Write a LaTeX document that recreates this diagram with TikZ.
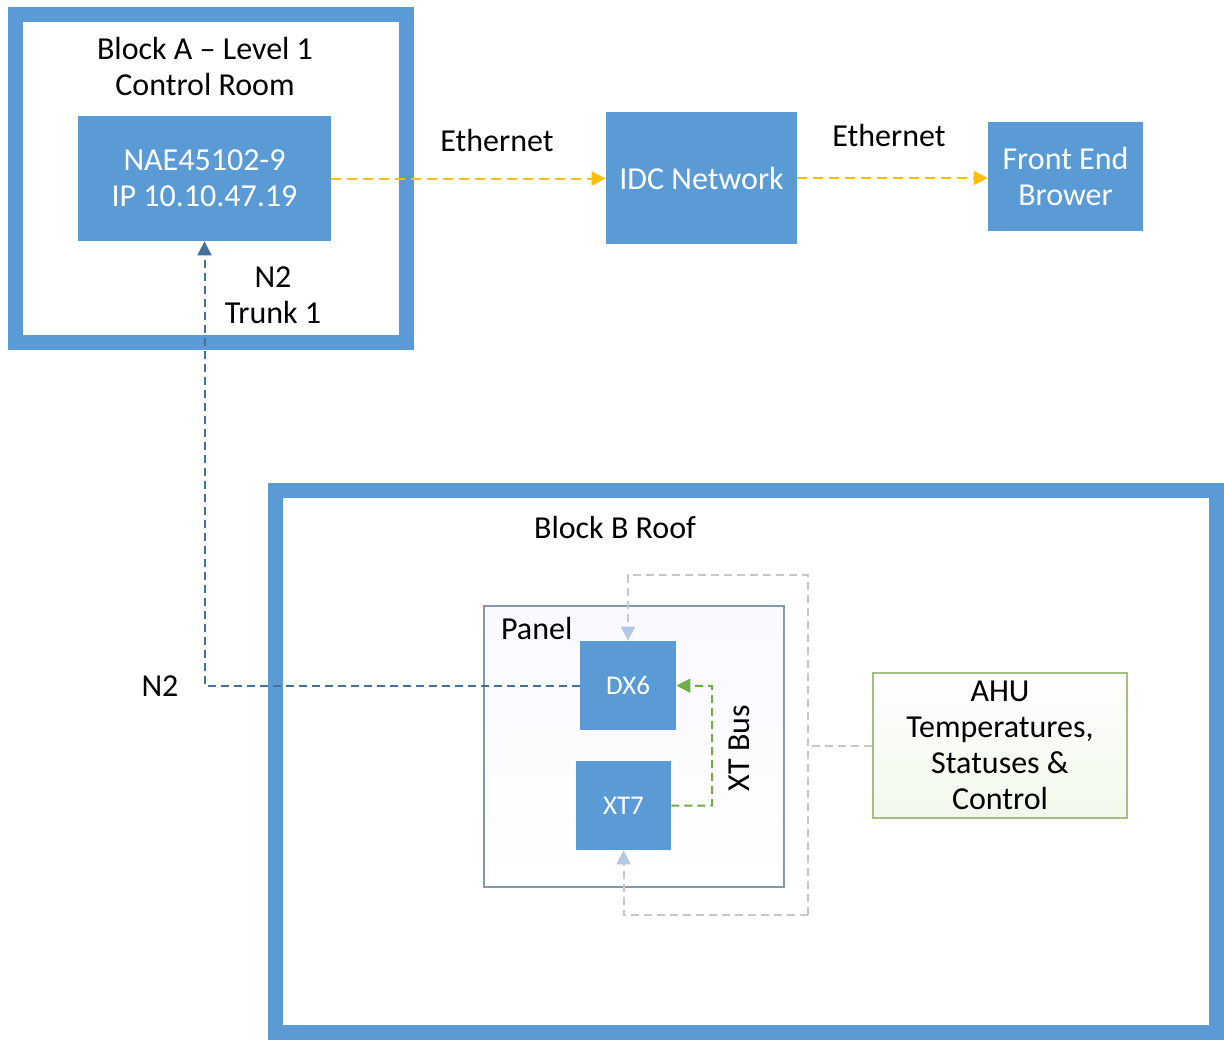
\documentclass[tikz,border=0pt]{standalone}
\usepackage{fontspec}
\setmainfont{Carlito}
\usetikzlibrary{arrows.meta,calc}
\definecolor{boxblue}{HTML}{5B9BD5}
\definecolor{ethc}{HTML}{FFC000}
\definecolor{ntwo}{HTML}{41719C}
\definecolor{greyl}{HTML}{C8C8C8}
\definecolor{lightarr}{HTML}{B4C7E7}
\definecolor{xtgreen}{HTML}{70AD47}
\definecolor{panelc}{HTML}{8497B0}
\definecolor{ahuc}{HTML}{A4BD84}
\tikzset{
  frame/.style={draw=boxblue, line width=7.5pt, fill=none},
  bluebox/.style={fill=boxblue, draw=none, text=white, align=center, font=\fontsize{16}{18}\selectfont},
  smallbox/.style={bluebox, font=\fontsize{13.5}{15}\selectfont},
  lbl/.style={align=center, font=\fontsize{16}{18}\selectfont, text=black},
  eth/.style={draw=ethc, line width=1pt, dash pattern=on 5pt off 3pt, -{Triangle[length=7pt,width=7pt,color=ethc]}},
  ntwoline/.style={draw=ntwo, line width=1pt, dash pattern=on 4pt off 2.5pt, -{Triangle[length=7pt,width=7pt,color=ntwo]}},
  xtline/.style={draw=xtgreen, line width=1pt, dash pattern=on 4pt off 2.5pt, -{Triangle[length=7pt,width=7pt,color=xtgreen]}},
  greyline/.style={draw=greyl, line width=1pt, dash pattern=on 4pt off 2.5pt},
  greyarrow/.style={greyline, -{Triangle[length=7pt,width=7pt,color=lightarr]}},
}
\begin{document}
\begin{tikzpicture}[x=0.5pt,y=-0.5pt]
\useasboundingbox[fill=white] (0,0) rectangle (1224,1040);
% containers
\node[frame, minimum width=195.5pt, minimum height=164pt] (blockA) at (211,178.5) {};
\node[frame, minimum width=470.5pt, minimum height=271pt] (blockB) at (746,761.5) {};
\node[draw=panelc, line width=0.6pt, top color=white!40!blue!4, bottom color=white, minimum width=150pt, minimum height=140.5pt] (panel) at (634,746.5) {};
% titles
\node[lbl] (titleA) at (205,66.5) {Block A -- Level 1\\Control Room};
\node[lbl] (titleB) at (615,527) {Block B Roof};
\node[lbl, anchor=west] (panellbl) at (494,628) {Panel};
% boxes
\node[bluebox, minimum width=126.5pt, minimum height=62.5pt] (nae) at (204.5,178.5) {NAE45102-9\\IP 10.10.47.19};
\node[bluebox, minimum width=95.5pt, minimum height=66pt] (idc) at (701.5,178) {IDC Network};
\node[bluebox, minimum width=77.5pt, minimum height=54.5pt] (front) at (1065.5,176.5) {Front End\\Brower};
\node[smallbox, minimum width=48pt, minimum height=44.5pt] (dx6) at (628,685.5) {DX6};
\node[smallbox, minimum width=47.5pt, minimum height=44.5pt] (xt7) at (623.5,805.5) {XT7};
\node[draw=ahuc, line width=0.8pt, top color=white, bottom color=green!40!olive!8, minimum width=127pt, minimum height=72.5pt, lbl] (ahu) at (1000,745.5) {AHU\\Temperatures,\\Statuses \&\\Control};
% labels
\node[lbl] (eth1) at (497,140) {Ethernet};
\node[lbl] (eth2) at (889,135) {Ethernet};
\node[lbl] (trunk) at (273,295.5) {N2\\Trunk 1};
\node[lbl] (ntwolbl) at (160,686) {N2};
\node[lbl, rotate=90] (xtbus) at (739,748) {XT Bus};
% coordinates
\coordinate (bus) at (712,686);
\coordinate (gtop) at (808,575);
\coordinate (gbot) at (808,915);
% connectors
\draw[eth] (nae.east) -- (nae.east -| idc.west);
\draw[eth] (idc.east) -- (idc.east -| front.west);
\draw[ntwoline] (dx6.west) -| (nae.south);
\draw[xtline] (xt7.east) -| (bus) -- (dx6.east);
\draw[greyline] (ahu.west) -- (ahu.west -| gtop);
\draw[greyarrow] (gbot) -- (gtop) -| (dx6.north);
\draw[greyarrow] (gbot) -| (xt7.south);
\end{tikzpicture}
\end{document}
